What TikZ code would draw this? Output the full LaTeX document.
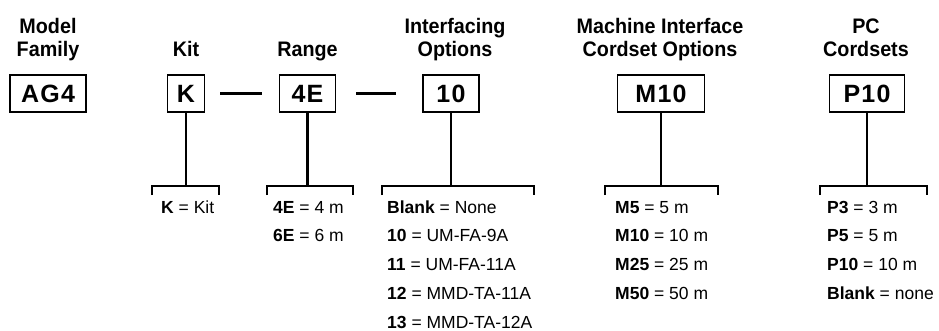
\documentclass[tikz,border=0pt]{standalone}
\usepackage{fontspec}
\setmainfont{Liberation Sans}
\newfontfamily\boxfont[LetterSpace=5]{Liberation Sans}
\newfontfamily\hdrfont[FakeStretch=0.94]{Liberation Sans}
\usetikzlibrary{positioning}

\begin{document}
\begin{tikzpicture}
[
x=1pt, y=-1pt,
codebox/.style={rectangle, draw=black, line width=1.1pt, minimum height=37pt, inner sep=0pt, font=\boxfont\bfseries\fontsize{25}{25}\selectfont},
hdr/.style={align=center, inner sep=0pt, anchor=base, font=\hdrfont\bfseries\fontsize{21}{23}\selectfont},
opt/.style={anchor=base west, inner sep=0pt, font=\fontsize{17.5}{20}\selectfont},
stem/.style={line width=2.4pt},
dashline/.style={line width=2.2pt},
]
\useasboundingbox (0,0) rectangle (939,330);

% code boxes
\node at (48,93.5) [codebox, minimum width=76pt]      (family)     {AG4};
\node at (186,93.5) [codebox, minimum width=37pt]      (kit)     {K};
\node at (307.5,93.5) [codebox, minimum width=56pt]      (range)     {4E};
\node at (451,93.5) [codebox, minimum width=56pt]      (iface)     {10};
\node at (661,93.5) [codebox, minimum width=87pt]      (mcord)     {M10};
\node at (867,93.5) [codebox, minimum width=75pt]      (pcord)     {P10};

% headings
\node at (48,56) [hdr]      (hfamily)     {Model\\Family};
\node at (186,56) [hdr]      (hkit)     {Kit};
\node at (307.5,56) [hdr]      (hrange)     {Range};
\node at (455,56) [hdr]      (hiface)     {Interfacing\\Options};
\node at (660,56) [hdr]      (hmcord)     {Machine Interface\\Cordset Options};
\node at (866,56) [hdr]      (hpcord)     {PC\\Cordsets};

\draw[dashline, shorten <=15pt, shorten >=17pt] (kit) -- (range);
\draw[dashline, shorten <=20pt, shorten >=26pt] (range) -- (iface);

% brackets
\coordinate (kbar) at (kit.south |- 0,186);
\coordinate (rbar) at (range.south |- 0,186);
\coordinate (ibar) at (iface.south |- 0,186);
\coordinate (mbar) at (mcord.south |- 0,186);
\coordinate (pbar) at (pcord.south |- 0,186);
\draw[stem] (kit) -- (kbar);
\draw[stem] (range) -- (rbar);
\draw[stem] (iface) -- (ibar);
\draw[stem] (mcord) -- (mbar);
\draw[stem] (pcord) -- (pbar);
\draw[stem] (152,195) |- (kbar) -| (219,195);
\draw[stem] (267,195) |- (rbar) -| (353,195);
\draw[stem] (382,195) |- (ibar) -| (534,195);
\draw[stem] (605,195) |- (mbar) -| (718,195);
\draw[stem] (820,195) |- (pbar) -| (927,195);

% option lists
\node at (161,213) [opt]      (kit0)     {\textbf{K} = Kit};
\foreach \code/\val [count=\i from 0] in {4E/4 m, 6E/6 m}
  \node at (273,{213+28.8*\i}) [opt] (rng\i) {\textbf{\code} = \val};
\foreach \code/\val [count=\i from 0] in {Blank/None, 10/UM-FA-9A, 11/UM-FA-11A, 12/MMD-TA-11A, 13/MMD-TA-12A}
  \node at (387,{213+28.8*\i}) [opt] (ifc\i) {\textbf{\code} = \val};
\foreach \code/\val [count=\i from 0] in {M5/5 m, M10/10 m, M25/25 m, M50/50 m}
  \node at (615,{213+28.8*\i}) [opt] (mc\i) {\textbf{\code} = \val};
\foreach \code/\val [count=\i from 0] in {P3/3 m, P5/5 m, P10/10 m, Blank/none}
  \node at (827,{213+28.8*\i}) [opt] (pc\i) {\textbf{\code} = \val};
\end{tikzpicture}
\end{document}
